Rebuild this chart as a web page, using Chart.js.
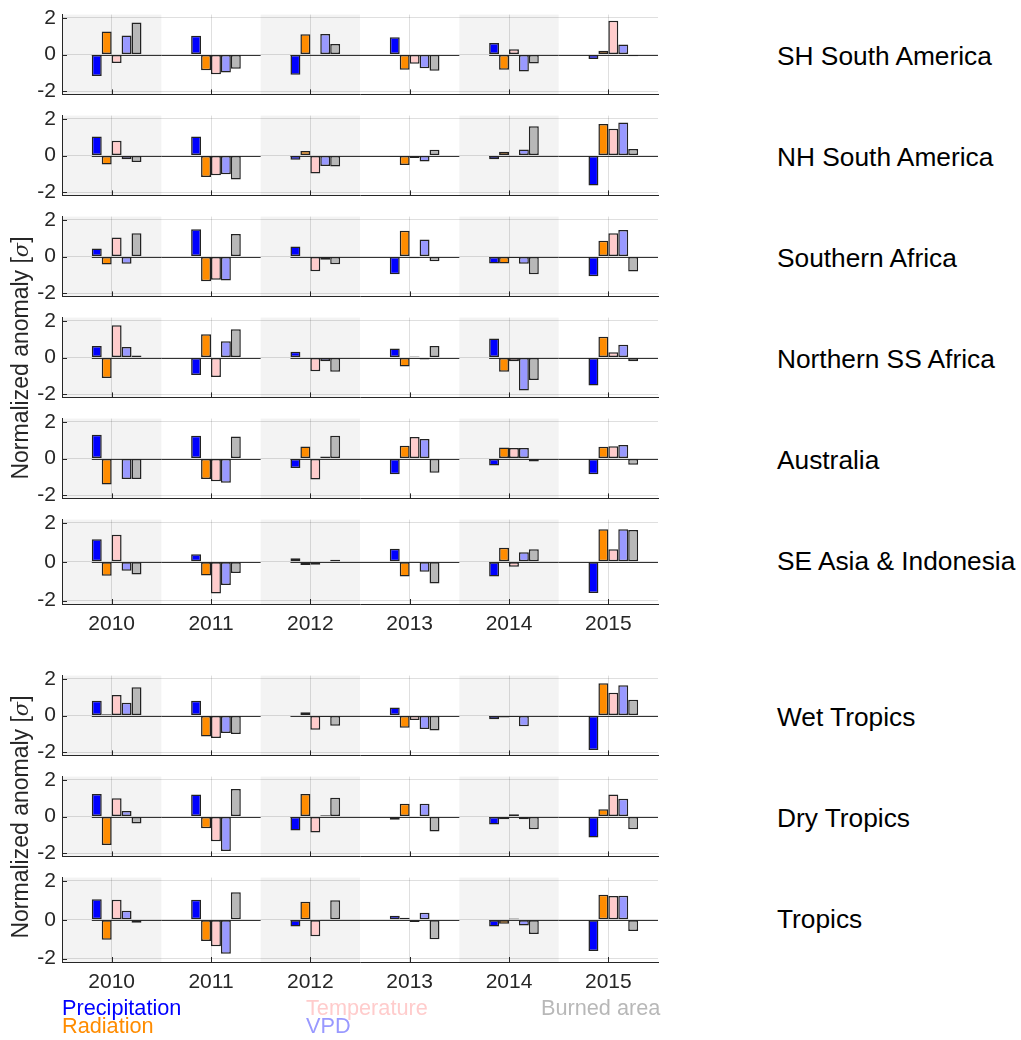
<!DOCTYPE html>
<html>
<head>
<meta charset="utf-8">
<title>Normalized anomalies</title>
<script src="https://cdn.jsdelivr.net/npm/chart.js@4.4.0/dist/chart.umd.min.js"></script>
<style>
  body { margin: 0; background: #fff; font-family: 'Liberation Sans', Arial, sans-serif; }
  #page { position: relative; width: 1021px; height: 1040px; overflow: hidden; }
  #page canvas { position: absolute; left: 0; }
  .region { position: absolute; left: 777px; font-size: 26.3px; color: #000; white-space: nowrap; transform: translateY(-50%); }
  .ylab { position: absolute; left: 20px; font-size: 23px; color: #262626; white-space: nowrap;
          transform: translate(-50%, -50%) rotate(-90deg); }
  .ylab i { font-family: 'DejaVu Serif', serif; font-size: 21px; }
  .leg { position: absolute; font-size: 21.7px; line-height: 18px; white-space: nowrap; }
</style>
</head>
<body>
<div id="page"></div>
<script>
// ---- data ----
const years = [2010, 2011, 2012, 2013, 2014, 2015];
const shadedYears = [2010, 2012, 2014];
const yTicks = [-2, 0, 2];
const regions = ['SH South America', 'NH South America', 'Southern Africa', 'Northern SS Africa',
                 'Australia', 'SE Asia & Indonesia', 'Wet Tropics', 'Dry Tropics', 'Tropics'];
const seriesNames = ['Precipitation', 'Radiation', 'Temperature', 'VPD', 'Burned area'];
const seriesColors = ['#0000ff', '#ff8c00', '#ffcccc', '#9999ff', '#b8b8b8'];

// one row per region, one value per year
const precipitation = [
  [-1.17, 1.02, -1.10, 0.94, 0.63, -0.24],
  [1.04, 1.04, -0.23, -0.07, -0.21, -1.63],
  [0.44, 1.48, 0.54, -0.96, -0.38, -1.08],
  [0.62, -0.95, 0.31, 0.49, 1.04, -1.52],
  [1.29, 1.24, -0.51, -0.85, -0.38, -0.85],
  [1.16, 0.39, 0.18, 0.67, -0.75, -1.60],
  [0.80, 0.80, 0.03, 0.44, -0.20, -1.88],
  [1.23, 1.20, -0.76, -0.18, -0.44, -1.14],
  [1.06, 1.03, -0.34, 0.21, -0.34, -1.60]
];
const radiation = [
  [1.25, -0.86, 1.10, -0.83, -0.83, 0.21],
  [-0.49, -1.17, 0.24, -0.52, 0.20, 1.71],
  [-0.44, -1.35, 0.00, 1.40, -0.38, 0.85],
  [-1.11, 1.26, 0.00, -0.49, -0.78, 1.13],
  [-1.42, -1.11, 0.65, 0.69, 0.60, 0.64],
  [-0.72, -0.70, -0.16, -0.75, 0.72, 1.68],
  [0.07, -1.14, 0.18, -0.67, -0.11, 1.75],
  [-1.55, -0.64, 1.22, 0.69, -0.15, 0.40],
  [-1.03, -1.09, 0.93, 0.10, -0.20, 1.29]
];
const temperature = [
  [-0.46, -1.07, 0.00, -0.50, 0.29, 1.84],
  [0.80, -1.07, -0.98, -0.13, -0.05, 1.46],
  [1.04, -1.27, -0.80, -0.10, -0.08, 1.27],
  [1.75, -1.06, -0.75, 0.06, -0.21, 0.28],
  [0.00, -1.24, -1.14, 1.17, 0.57, 0.67],
  [1.39, -1.63, -0.15, 0.02, -0.26, 0.65],
  [1.11, -1.22, -0.77, -0.24, -0.08, 1.24],
  [0.99, -1.35, -0.87, -0.08, 0.12, 1.19],
  [1.03, -1.36, -0.85, -0.11, 0.07, 1.22]
];
const vpd = [
  [1.04, -0.98, 1.12, -0.75, -0.93, 0.55],
  [-0.20, -1.02, -0.57, -0.33, 0.33, 1.80],
  [-0.39, -1.30, -0.18, 0.93, -0.39, 1.44],
  [0.57, 0.88, -0.21, -0.11, -1.80, 0.69],
  [-1.11, -1.32, 0.11, 1.06, 0.57, 0.73],
  [-0.46, -1.19, -0.02, -0.51, 0.49, 1.68],
  [0.69, -0.95, -0.08, -0.73, -0.59, 1.65],
  [0.30, -1.88, 0.07, 0.69, -0.15, 0.97],
  [0.47, -1.75, 0.02, 0.36, -0.29, 1.24]
];
const burnedArea = [
  [1.74, -0.78, 0.57, -0.89, -0.49, -0.10],
  [-0.36, -1.30, -0.60, 0.31, 1.59, 0.36],
  [1.27, 1.22, -0.42, -0.26, -0.96, -0.82],
  [0.11, 1.53, -0.78, 0.62, -1.22, -0.20],
  [-1.11, 1.19, 1.24, -0.78, -0.16, -0.34],
  [-0.65, -0.57, 0.11, -1.11, 0.64, 1.63],
  [1.53, -1.01, -0.56, -0.82, 0.00, 0.85],
  [-0.38, 1.50, 1.02, -0.82, -0.69, -0.69],
  [-0.15, 1.42, 1.00, -1.00, -0.73, -0.57]
];
const seriesValues = [precipitation, radiation, temperature, vpd, burnedArea];

// ---- layout ----
const panelTops = [10, 111, 212, 313, 414, 515, 671, 772, 873];
const labelledPanels = [5, 8];
const ylabelPanels = [3, 7];
const PANEL_H = 89, PAD_TOP = 14, AXIS_LEFT = 62, PLOT_RIGHT = 658, CANVAS_W = 670;
const GROUP_SHIFT = 0.05;   // matlab puts the bar group a half bar right of the tick
const axisColor = '#262626';
const gridColor = 'rgba(38,38,38,0.15)';

Chart.defaults.font.family = "'Liberation Sans', Arial, sans-serif";

const page = document.getElementById('page');

// shaded years, zero line and inward tick marks
const panelDecor = {
  id: 'panelDecor',
  beforeDraw(chart) {
    const { ctx, chartArea: a, scales: { x } } = chart;
    ctx.save();
    ctx.fillStyle = '#f3f3f3';
    shadedYears.forEach(yr => {
      const x0 = x.getPixelForValue(yr - 0.5), x1 = x.getPixelForValue(yr + 0.5);
      ctx.fillRect(x0, a.top, x1 - x0, a.bottom - a.top);
    });
    ctx.restore();
  },
  beforeDatasetsDraw(chart) {
    const { ctx, chartArea: a, scales: { x, y } } = chart;
    ctx.save();
    ctx.strokeStyle = '#333';
    ctx.lineWidth = 1;
    const y0 = Math.round(y.getPixelForValue(0)) + 0.5;
    years.forEach(yr => {
      const start = shadedYears.includes(yr) ? yr - 0.2 : yr - 0.5;
      ctx.beginPath();
      ctx.moveTo(x.getPixelForValue(start), y0);
      ctx.lineTo(x.getPixelForValue(yr + 0.5), y0);
      ctx.stroke();
    });
    ctx.strokeStyle = axisColor;
    years.forEach(yr => {
      const px = Math.round(x.getPixelForValue(yr)) + 0.5;
      ctx.beginPath();
      ctx.moveTo(px, a.bottom);
      ctx.lineTo(px, a.bottom - 5);
      ctx.stroke();
    });
    yTicks.forEach(v => {
      const py = Math.round(y.getPixelForValue(v)) + 0.5;
      ctx.beginPath();
      ctx.moveTo(a.left, py);
      ctx.lineTo(a.left + 5, py);
      ctx.stroke();
    });
    ctx.restore();
  }
};

regions.forEach((name, p) => {
  const showYears = labelledPanels.includes(p);
  const bottomH = showYears ? 40 : 14;
  const cv = document.createElement('canvas');
  cv.width = CANVAS_W;
  cv.height = PAD_TOP + PANEL_H + bottomH;
  cv.style.top = (panelTops[p] - PAD_TOP) + 'px';
  page.appendChild(cv);

  new Chart(cv, {
    type: 'bar',
    data: {
      datasets: seriesNames.map((s, k) => ({
        label: s,
        data: years.map((yr, j) => ({ x: yr + GROUP_SHIFT, y: seriesValues[k][p][j] })),
        backgroundColor: seriesColors[k],
        borderColor: '#222',
        borderWidth: 1.5,
        borderSkipped: false,
        categoryPercentage: 0.5,
        barPercentage: 1
      }))
    },
    options: {
      responsive: false,
      animation: false,
      devicePixelRatio: 1,
      layout: { padding: { top: PAD_TOP, right: CANVAS_W - PLOT_RIGHT, left: 0, bottom: 0 } },
      plugins: { legend: { display: false }, tooltip: { enabled: false } },
      scales: {
        x: {
          type: 'linear',
          offset: false,
          min: 2009.5,
          max: 2015.5,
          afterBuildTicks: s => { s.ticks = years.map(v => ({ value: v })); },
          afterFit: s => { s.height = bottomH; },
          grid: { color: gridColor, drawTicks: false, offset: false },
          border: { color: axisColor, width: 1 },
          ticks: { display: showYears, padding: 8, color: axisColor, font: { size: 21 }, callback: v => String(v) }
        },
        y: {
          min: -2.17,
          max: 2.17,
          afterBuildTicks: s => { s.ticks = yTicks.map(v => ({ value: v })); },
          afterFit: s => { s.width = AXIS_LEFT; },
          grid: { color: gridColor, drawTicks: false },
          border: { color: axisColor, width: 1 },
          ticks: { padding: 6, color: axisColor, font: { size: 21 } }
        }
      }
    },
    plugins: [panelDecor]
  });

  const lab = document.createElement('div');
  lab.className = 'region';
  lab.textContent = name;
  lab.style.top = (panelTops[p] + PANEL_H / 2 + 1) + 'px';
  page.appendChild(lab);
});

ylabelPanels.forEach(p => {
  const yl = document.createElement('div');
  yl.className = 'ylab';
  yl.innerHTML = 'Normalized anomaly [<i>σ</i>]';
  yl.style.top = (panelTops[p] + PANEL_H / 2) + 'px';
  page.appendChild(yl);
});

// legend: text only, three columns filled top to bottom
const legendPos = [[62, 999], [62, 1017], [306, 999], [306, 1017], [541, 999]];
seriesNames.forEach((s, k) => {
  const el = document.createElement('div');
  el.className = 'leg';
  el.textContent = s;
  el.style.color = seriesColors[k];
  el.style.left = legendPos[k][0] + 'px';
  el.style.top = legendPos[k][1] + 'px';
  page.appendChild(el);
});
</script>
</body>
</html>
